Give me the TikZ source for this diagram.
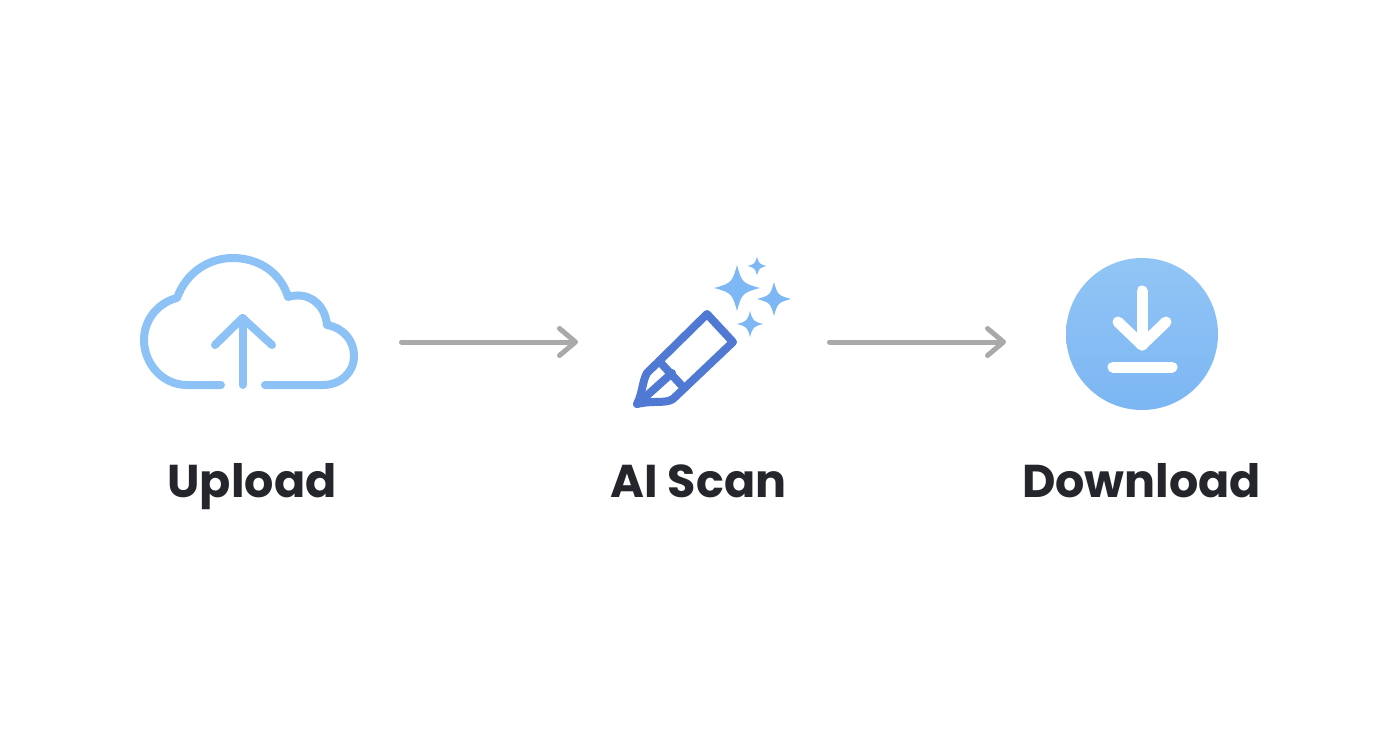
\documentclass[tikz,border=0pt]{standalone}
\usepackage{fontspec}
\setmainfont{Poppins}
\usepackage{xcolor}
\usetikzlibrary{arrows.meta}
\usetikzlibrary{shadings}
\definecolor{cloudblue}{HTML}{8CC2F5}
\definecolor{penblue}{HTML}{4F79D2}
\definecolor{sparkblue}{HTML}{7DB8F4}
\definecolor{arrowgrey}{HTML}{A9A9A9}
\definecolor{labelblack}{HTML}{24262B}
\tikzset{
	steplabel/.style={anchor=base,text=labelblack,font=\fontsize{46}{46}\selectfont\bfseries},
	cloudline/.style={draw=cloudblue,line width=8pt,line cap=round,line join=round},
	penline/.style={draw=penblue,line width=8pt,line cap=round,line join=round},
	flowarrow/.style={draw=arrowgrey,line width=5pt,line cap=round,-{Straight Barb[length=16pt,width=27pt,round]}},
	downline/.style={draw=white,line width=11pt,line cap=round,line join=round}
}
\newcommand{\sparkle}[3]{\fill [sparkblue] (#1-#3,#2) .. controls (#1-0.25*#3,#2-0.2*#3) and (#1-0.2*#3,#2-0.25*#3) .. (#1,#2-#3) .. controls (#1+0.2*#3,#2-0.25*#3) and (#1+0.25*#3,#2-0.2*#3) .. (#1+#3,#2) .. controls (#1+0.25*#3,#2+0.2*#3) and (#1+0.2*#3,#2+0.25*#3) .. (#1,#2+#3) .. controls (#1-0.2*#3,#2+0.25*#3) and (#1-0.25*#3,#2+0.2*#3) .. (#1-#3,#2);}
\begin{document}
\begin{tikzpicture}[x=1pt,y=-1pt]
	\useasboundingbox (0,0)rectangle(1392,752);
	% cloud
	\draw [cloudline] (221,385)--(187,385) .. controls (162,385) and (144,363) .. (144,340) .. controls (144,318) and (160,302) .. (177,298) .. controls (186,273) and (208,258) .. (233,258) .. controls (259,258) and (281,273) .. (288,297) .. controls (307,291) and (325,303) .. (327,325) .. controls (344,328) and (354,341) .. (354,356) .. controls (354,373) and (340,385) .. (323,385)--(265,385);
	\draw [cloudline] (242.5,385)--(242.5,318);
	\draw [cloudline] (215,345)--(242.5,318)--(272,345);
	% pencil
	\draw [penline] (707,314)--(733,342)--(673,399) .. controls (665,404) and (655,400) .. (637,404) .. controls (643,392) and (642,382) .. (647,373)--cycle;
	\draw [penline] (659,361)--(684,388);
	\draw [penline] (642,400)--(672,373);
	\sparkle{737}{288}{23}
	\sparkle{774}{299}{17}
	\sparkle{757}{266}{9.5}
	\sparkle{750}{324}{13}
	% download
	\shade [top color=cloudblue!95!white,bottom color=sparkblue!97!penblue] (1142,334) circle (76);
	\draw [downline] (1142,291)--(1142,345);
	\draw [downline] (1118,322)--(1142,345)--(1166,322);
	\draw [downline] (1113,367)--(1172,367);
	% arrows
	\coordinate (uploadout) at (401.5,342);
	\coordinate (scanin) at (578,342);
	\coordinate (scanout) at (829.5,342);
	\coordinate (downloadin) at (1006,342);
	\draw [flowarrow] (uploadout)--(scanin);
	\draw [flowarrow] (scanout)--(downloadin);
	% labels
	\node [steplabel] (upload) at (252,497.5){Upload};
	\node [steplabel] (scan) at (698.5,497.5){AI Scan};
	\node [steplabel] (download) at (1141.5,497.5){Download};
\end{tikzpicture}
\end{document}
